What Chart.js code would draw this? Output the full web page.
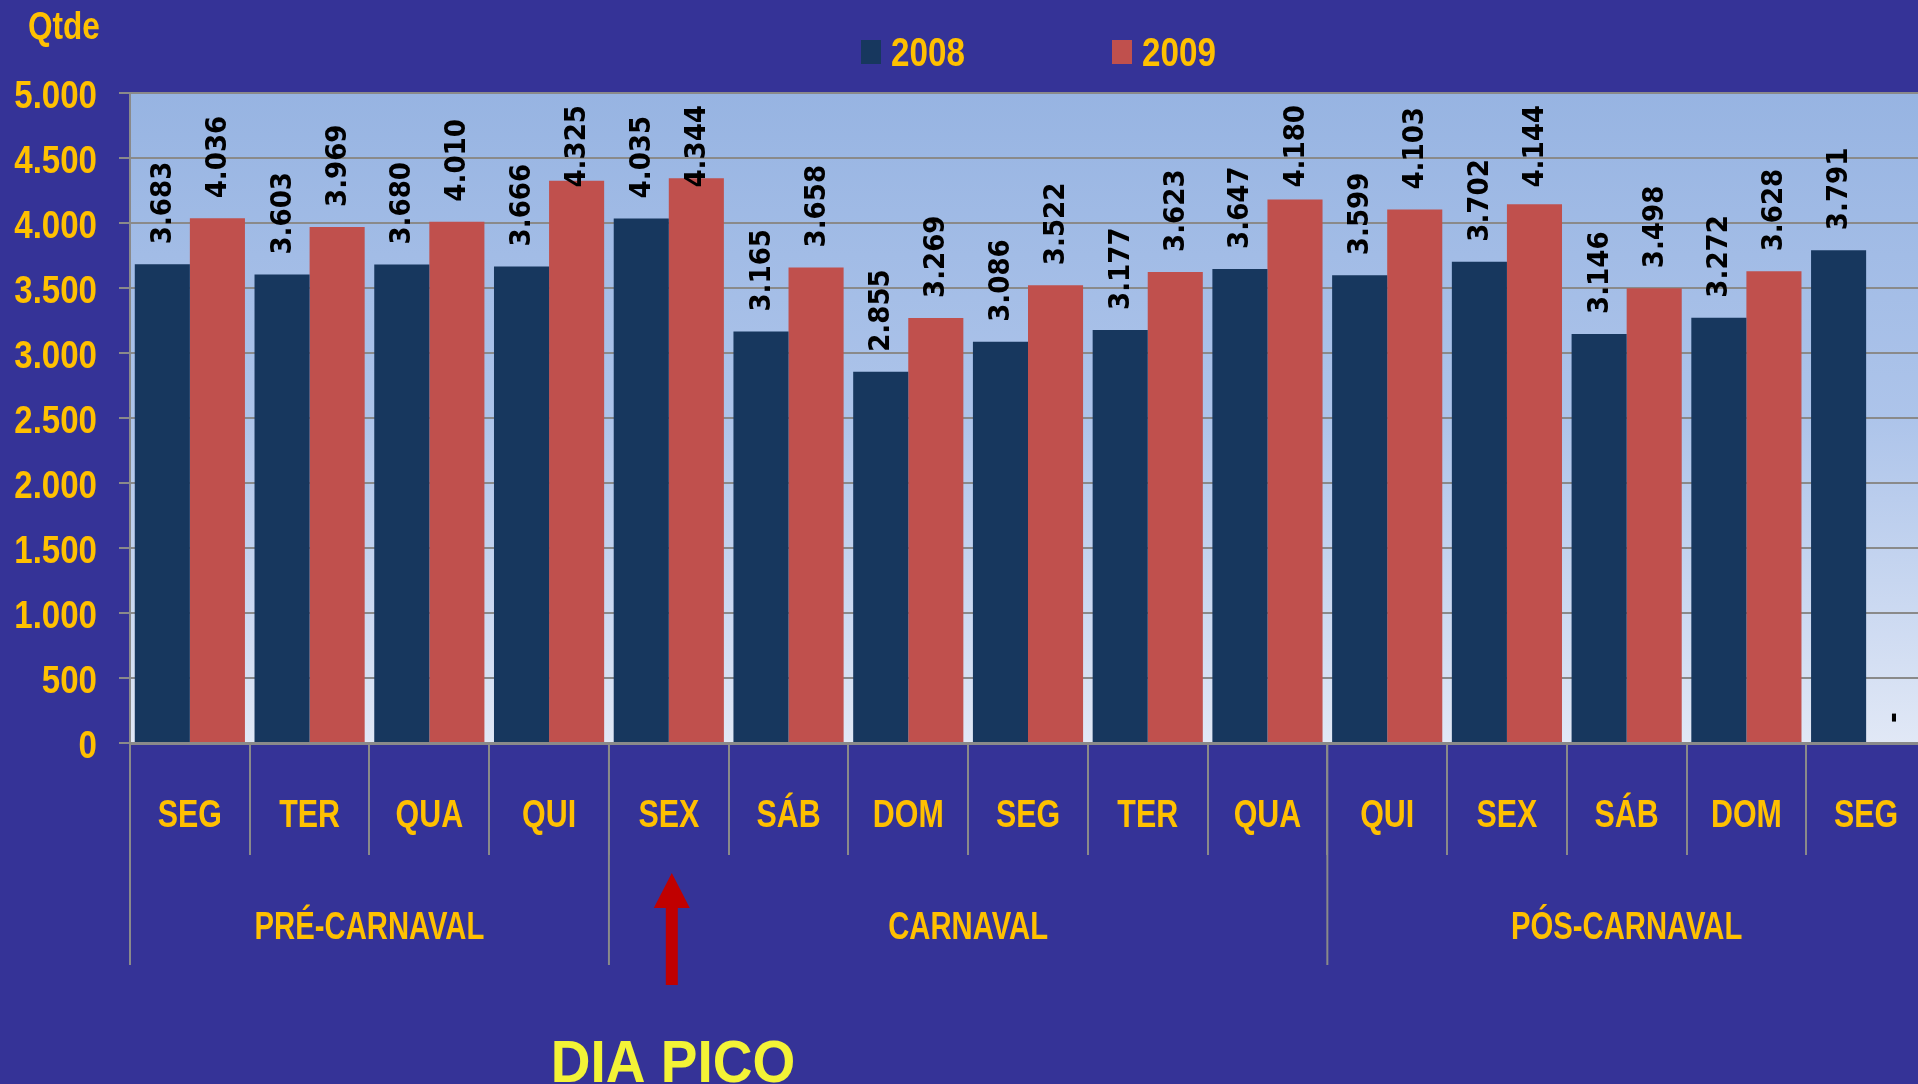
<!DOCTYPE html>
<html>
<head>
<meta charset="utf-8">
<title>Qtde - Carnaval 2008 x 2009</title>
<script src="https://cdn.jsdelivr.net/npm/chart.js@4.4.0/dist/chart.umd.min.js"></script>
<style>
  html, body { margin: 0; padding: 0; background: #353397; overflow: hidden; }
  #wrap { position: relative; width: 1940px; height: 1084px; }
</style>
</head>
<body>
<div id="wrap"><canvas id="grafico"></canvas></div>
<script>
// dados
var dias = ["SEG", "TER", "QUA", "QUI", "SEX", "SÁB", "DOM", "SEG", "TER", "QUA", "QUI", "SEX", "SÁB", "DOM", "SEG"];
var periodos = ["PRÉ-CARNAVAL", "CARNAVAL", "PÓS-CARNAVAL"];
var periodoInicio = [0, 4, 10];
var periodoFim = [4, 10, 15];
var anos = ["2008", "2009"];
var qtd2008 = [3683, 3603, 3680, 3666, 4035, 3165, 2855, 3086, 3177, 3647, 3599, 3702, 3146, 3272, 3791];
var qtd2009 = [4036, 3969, 4010, 4325, 4344, 3658, 3269, 3522, 3623, 4180, 4103, 4144, 3498, 3628, 0];
var yTicks = [0, 500, 1000, 1500, 2000, 2500, 3000, 3500, 4000, 4500, 5000];
var diaPico = 4;

var corAmarela = "#ffc000";
var corCinza = "#8a8a8a";
var cores = ["#17375e", "#c0504d"];
var fonteAmarela = "bold 38px 'Liberation Sans', Arial, sans-serif";

function fmt(v) {
  return String(v).replace(/\B(?=(\d{3})+(?!\d))/g, ".");
}
function fmtRotulo(v) {
  if (v === 0) return "-";
  return fmt(v);
}

// texto estreito (parecido com Calibri)
function texto(ctx, txt, x, y, align, sx) {
  ctx.save();
  ctx.translate(x, y);
  ctx.scale(sx, 1);
  ctx.textAlign = align;
  ctx.fillText(txt, 0, 0);
  ctx.restore();
}

// fundo em degrade da area do grafico
var fundoPlugin = {
  id: "fundo",
  beforeDraw: function(chart) {
    var a = chart.chartArea, ctx = chart.ctx;
    var g = ctx.createLinearGradient(0, a.top, 0, a.bottom);
    g.addColorStop(0, "#97b4e2");
    g.addColorStop(0.5, "#adc4ea");
    g.addColorStop(1, "#e1e8f6");
    ctx.save();
    ctx.fillStyle = g;
    ctx.fillRect(a.left, a.top, a.right - a.left, a.bottom - a.top);
    ctx.restore();
  }
};

// rotulos de valor girados
var rotulosPlugin = {
  id: "rotulos",
  afterDatasetsDraw: function(chart) {
    var ctx = chart.ctx, topo = chart.chartArea.top + 12;
    var esc = 0.9;
    ctx.save();
    ctx.font = "bold 29px 'DejaVu Sans', sans-serif";
    ctx.fillStyle = "#000";
    ctx.textAlign = "left";
    ctx.textBaseline = "middle";
    chart.data.datasets.forEach(function(ds, i) {
      var meta = chart.getDatasetMeta(i);
      meta.data.forEach(function(bar, j) {
        var txt = fmtRotulo(ds.data[j]);
        var w = ctx.measureText(txt).width * esc;
        var y0 = Math.max(bar.y - 20, topo + w);
        ctx.save();
        ctx.translate(bar.x + 1, y0);
        ctx.rotate(-Math.PI / 2);
        ctx.scale(esc, 1);
        ctx.fillText(txt, 0, 0);
        ctx.restore();
      });
    });
    ctx.restore();
  }
};

// ticks, legenda, titulo do eixo, periodos, seta
var extrasPlugin = {
  id: "extras",
  afterDraw: function(chart) {
    var ctx = chart.ctx, x = chart.scales.x, y = chart.scales.y;
    var larg = (x.right - x.left) / dias.length;
    ctx.save();
    ctx.fillStyle = corAmarela;
    ctx.font = fonteAmarela;
    ctx.textBaseline = "alphabetic";

    // Qtde
    texto(ctx, "Qtde", 28, 39, "left", 0.83);

    // eixo y
    yTicks.forEach(function(v) {
      texto(ctx, fmt(v), 97, y.getPixelForValue(v) + 15, "right", 0.87);
    });

    // eixo x: dias
    dias.forEach(function(d, i) {
      texto(ctx, d, x.getPixelForValue(i), 827, "center", 0.8);
    });

    // legenda
    var legX = [861, 1112];
    anos.forEach(function(a, i) {
      ctx.fillStyle = cores[i];
      ctx.fillRect(legX[i], 40, 20, 24);
      ctx.fillStyle = corAmarela;
      ctx.save();
      ctx.font = "bold 40px 'Liberation Sans', Arial, sans-serif";
      texto(ctx, a, legX[i] + 30, 66, "left", 0.83);
      ctx.restore();
    });

    // linhas e nomes dos periodos
    ctx.strokeStyle = corCinza;
    ctx.lineWidth = 2;
    periodos.forEach(function(p, i) {
      var x0 = x.left + periodoInicio[i] * larg;
      var x1 = x.left + periodoFim[i] * larg;
      ctx.beginPath();
      ctx.moveTo(x0, x.top);
      ctx.lineTo(x0, 965);
      ctx.stroke();
      texto(ctx, p, (x0 + x1) / 2, 939, "center", 0.77);
    });

    // seta do dia pico
    var px = x.getPixelForValue(diaPico) + 3;
    ctx.fillStyle = "#c00000";
    ctx.beginPath();
    ctx.moveTo(px, 873);
    ctx.lineTo(px + 18, 908);
    ctx.lineTo(px + 6, 908);
    ctx.lineTo(px + 6, 985);
    ctx.lineTo(px - 6, 985);
    ctx.lineTo(px - 6, 908);
    ctx.lineTo(px - 18, 908);
    ctx.closePath();
    ctx.fill();

    // DIA PICO
    ctx.save();
    ctx.translate(px - 121, 1082);
    ctx.scale(1, 1.07);
    ctx.fillStyle = "#f3f336";
    ctx.font = "bold 55px 'Liberation Sans', Arial, sans-serif";
    ctx.textAlign = "left";
    ctx.fillText("DIA PICO", 0, 0);
    ctx.restore();

    ctx.restore();
  }
};

var ctx = document.getElementById("grafico");
var grafico = new Chart(ctx, {
  type: "bar",
  data: {
    labels: dias,
    datasets: [
      { label: anos[0], data: qtd2008, backgroundColor: cores[0] },
      { label: anos[1], data: qtd2009, backgroundColor: cores[1] }
    ]
  },
  options: {
    responsive: true,
    maintainAspectRatio: false,
    animation: false,
    categoryPercentage: 0.92,
    barPercentage: 1.0,
    layout: { padding: { top: 93, right: 14, left: 0, bottom: 0 } },
    plugins: {
      legend: { display: false },
      tooltip: { enabled: false }
    },
    scales: {
      x: {
        offset: true,
        ticks: { display: false, autoSkip: false, maxRotation: 0 },
        grid: { drawOnChartArea: false, color: corCinza, lineWidth: 2, tickLength: 112, offset: true },
        border: { color: corCinza, width: 3 },
        afterFit: function(scale) { scale.height = 341; }
      },
      y: {
        min: 0,
        max: 5000,
        afterBuildTicks: function(scale) {
          scale.ticks = yTicks.map(function(v) { return { value: v }; });
        },
        ticks: { display: false },
        grid: { color: corCinza, lineWidth: 2, tickLength: 11 },
        border: { color: corCinza, width: 2 },
        afterFit: function(scale) { scale.width = 130; }
      }
    }
  },
  plugins: [fundoPlugin, rotulosPlugin, extrasPlugin]
});
</script>
</body>
</html>
